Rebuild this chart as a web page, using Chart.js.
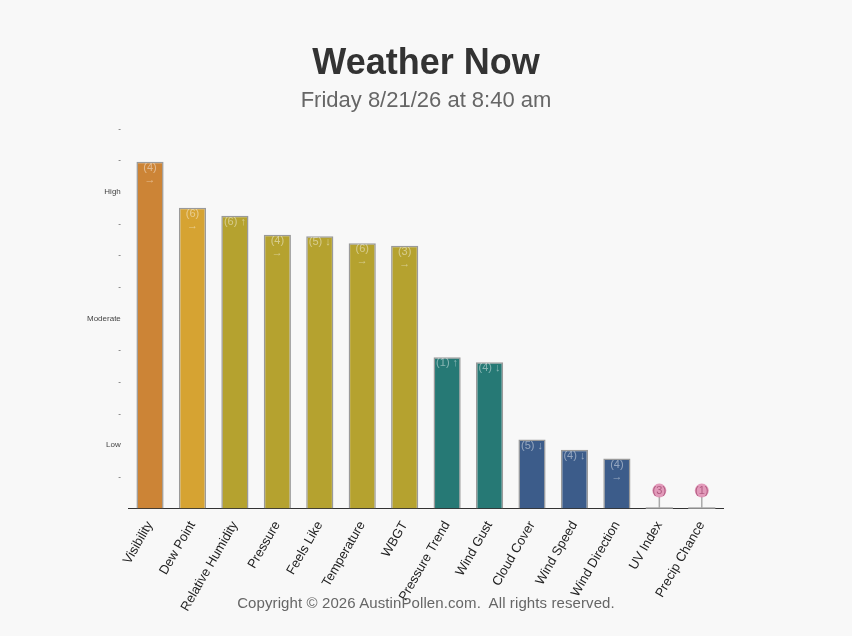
<!DOCTYPE html>
<html>
<head>
<meta charset="utf-8">
<title>Weather Now</title>
<script src="https://cdn.jsdelivr.net/npm/chart.js@4/dist/chart.umd.min.js"></script>
<style>
  html, body { margin: 0; padding: 0; background: #f8f8f8; }
  #wrap { position: relative; width: 852px; height: 636px; }
  #footer {
    position: absolute; left: 0; right: 0; top: 594px;
    text-align: center; font: 15px "Liberation Sans", Arial, sans-serif; color: #666;
    white-space: pre; letter-spacing: 0.1px;
  }
</style>
</head>
<body>
<div id="wrap">
  <canvas id="weatherChart" width="852" height="636"></canvas>
  <div id="footer">Copyright © 2026 AustinPollen.com.  All rights reserved.</div>
</div>
<script>
const categories = ['Visibility', 'Dew Point', 'Relative Humidity', 'Pressure', 'Feels Like', 'Temperature', 'WBGT',
  'Pressure Trend', 'Wind Gust', 'Cloud Cover', 'Wind Speed', 'Wind Direction', 'UV Index', 'Precip Chance'];
const levels = [10.95, 9.5, 9.25, 8.65, 8.6, 8.38, 8.3, 4.78, 4.62, 2.18, 1.86, 1.58, 0, 0];
const ranks = [4, 6, 6, 4, 5, 6, 3, 1, 4, 5, 4, 4, 3, 1];
const trends = ['→', '→', '↑', '→', '↓', '→', '→', '↑', '↓', '↓', '↓', '→', '', ''];
const barColors = ['#cc8436', '#d6a332', '#b5a22f', '#b5a22f', '#b5a22f', '#b5a22f', '#b5a22f',
  '#267975', '#267975', '#3c5c8a', '#3c5c8a', '#3c5c8a', '#3c5c8a', '#3c5c8a'];
const tickNames = { 2: 'Low', 6: 'Moderate', 10: 'High' };

const FONT = '"Liberation Sans", Arial, sans-serif';

// writes (rank) and trend arrow inside each bar, or above it in a pink badge when the bar is empty
const barLabels = {
  id: 'barLabels',
  afterDatasetsDraw(chart) {
    const ctx = chart.ctx;
    const meta = chart.getDatasetMeta(0);
    const base = chart.scales.y.getPixelForValue(0);
    ctx.save();
    ctx.font = '11px ' + FONT;
    ctx.textAlign = 'center';
    ctx.textBaseline = 'middle';
    meta.data.forEach((bar, i) => {
      const txt = '(' + ranks[i] + ')';
      if (levels[i] === 0) {
        ctx.strokeStyle = '#aaa';
        ctx.lineWidth = 1.5;
        ctx.beginPath();
        ctx.moveTo(bar.x - bar.width / 2, base - 0.5);
        ctx.lineTo(bar.x + bar.width / 2, base - 0.5);
        ctx.moveTo(bar.x, base);
        ctx.lineTo(bar.x, base - 12);
        ctx.stroke();
        ctx.fillStyle = 'rgba(220, 130, 170, 0.8)';
        ctx.beginPath();
        ctx.arc(bar.x, base - 18, 7, 0, Math.PI * 2);
        ctx.fill();
        ctx.fillStyle = 'rgba(160, 70, 110, 0.75)';
        ctx.fillText(txt, bar.x, base - 18);
        return;
      }
      ctx.fillStyle = 'rgba(255, 255, 255, 0.45)';
      if (trends[i] === '→') {
        ctx.fillText(txt, bar.x, bar.y + 6);
        ctx.fillText(trends[i], bar.x, bar.y + 18);
      } else {
        ctx.fillText(txt + ' ' + trends[i], bar.x, bar.y + 6);
      }
    });
    ctx.restore();
  }
};

new Chart(document.getElementById('weatherChart'), {
  type: 'bar',
  data: {
    labels: categories,
    datasets: [{
      data: levels,
      backgroundColor: barColors,
      borderColor: '#9a9a9a',
      borderWidth: 1.5,
      borderSkipped: 'bottom',
      barPercentage: 0.8,
      categoryPercentage: 0.8
    }]
  },
  options: {
    responsive: false,
    animation: false,
    layout: { padding: { left: 87, right: 87, top: 18, bottom: 20 } },
    plugins: {
      legend: { display: false },
      tooltip: { enabled: false },
      title: {
        display: true,
        text: 'Weather Now',
        color: '#333',
        font: { family: FONT, size: 36, weight: 'bold' },
        padding: { top: 24, bottom: 3 }
      },
      subtitle: {
        display: true,
        text: 'Friday 8/21/26 at 8:40 am',
        color: '#666',
        font: { family: FONT, size: 22 },
        padding: { top: 0, bottom: 14 }
      }
    },
    scales: {
      x: {
        grid: { display: false },
        border: { display: true, color: '#333', width: 1 },
        ticks: {
          color: '#222',
          font: { family: FONT, size: 13 },
          maxRotation: 60,
          minRotation: 60,
          padding: 2
        }
      },
      y: {
        min: 0,
        max: 12,
        grid: { display: false },
        border: { display: false },
        ticks: {
          stepSize: 1,
          padding: 0,
          color: '#444',
          font: { family: FONT, size: 8 },
          callback: (v) => v === 0 ? '' : (tickNames[v] || '-')
        }
      },
      // empty right-hand axis, only keeps the plot off the right edge so titles stay centred
      yRight: {
        position: 'right',
        min: 0,
        max: 12,
        grid: { display: false },
        border: { display: false },
        ticks: { display: false },
        afterFit: (scale) => { scale.width = 42; }
      }
    }
  },
  plugins: [barLabels]
});
</script>
</body>
</html>
